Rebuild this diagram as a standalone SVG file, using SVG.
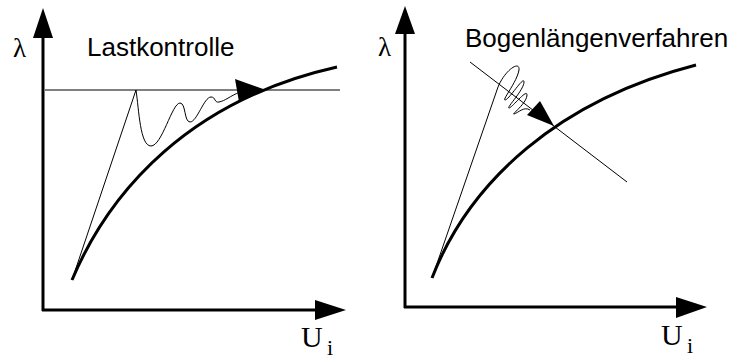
<svg xmlns="http://www.w3.org/2000/svg" width="733" height="360" viewBox="0 0 733 360">
<style>
.axis{stroke:#000;stroke-width:3;fill:none}
.thick{stroke:#000;stroke-width:3;fill:none;stroke-linecap:butt}
.thin{stroke:#000;stroke-width:1;fill:none}
.head{fill:#000;stroke:none}
.sans{font-family:"Liberation Sans",Arial,sans-serif;font-size:26px;fill:#000}
.serif{font-family:"Liberation Serif","Times New Roman",serif;fill:#000}
</style>
<rect width="733" height="360" fill="#fff"/>
<g id="left-panel">
  <g id="left-axes">
    <path class="axis" d="M43,311 V34 M42,310 H318"/>
    <polygon class="head" points="43,8 33,38 53,38"/>
    <polygon class="head" points="346,310 315,300 315,320"/>
  </g>
  <g id="left-labels">
    <text class="serif" x="13" y="57" font-size="27">λ</text>
    <text class="sans" x="87" y="56">Lastkontrolle</text>
    <text class="serif" x="301" y="347" font-size="30">U</text>
    <text class="serif" x="327" y="355" font-size="22">i</text>
  </g>
  <g id="left-curves">
    <path class="thin" d="M45,90 H340"/>
    <path class="thick" d="M72,280 C110,190 190,100 337,67"/>
    <path class="thin" d="M72,280 L136,90 C139,110 140,146 151,146 C162,146 172,103 180,103 C186,103 184,122 190,122 C197,122 204,97 211,97 C216,97 214,103 219,102 C225,101 230,96 240,92"/>
    <polygon class="head" points="266,90 235,79 239,102"/>
  </g>
</g>
<g id="right-panel">
  <g id="right-axes">
    <path class="axis" d="M405,308 V32 M404,307 H678"/>
    <polygon class="head" points="405,6 395,34 415,34"/>
    <polygon class="head" points="707,307 676,297 676,318"/>
  </g>
  <g id="right-labels">
    <text class="serif" x="378" y="56" font-size="27">λ</text>
    <text class="sans" x="465" y="47">Bogenlängenverfahren</text>
    <text class="serif" x="661" y="345" font-size="30">U</text>
    <text class="serif" x="687" y="353" font-size="22">i</text>
  </g>
  <g id="right-curves">
    <path class="thin" d="M470,62 L627,182"/>
    <path class="thick" d="M432,278 C470,180 560,100 696,65"/>
    <path class="thin" d="M432,278 L498,87 C505,70 520,60 519,70 C517,82 502,100 505,100 C509,100 524,75 524,82 C524,90 506,108 509,108 C512,108 527,88 527,95 C527,103 511,115 514,114 C518,113 524,106 530,110"/>
    <polygon class="head" points="554,126 527,115 540,101"/>
  </g>
</g>
</svg>
